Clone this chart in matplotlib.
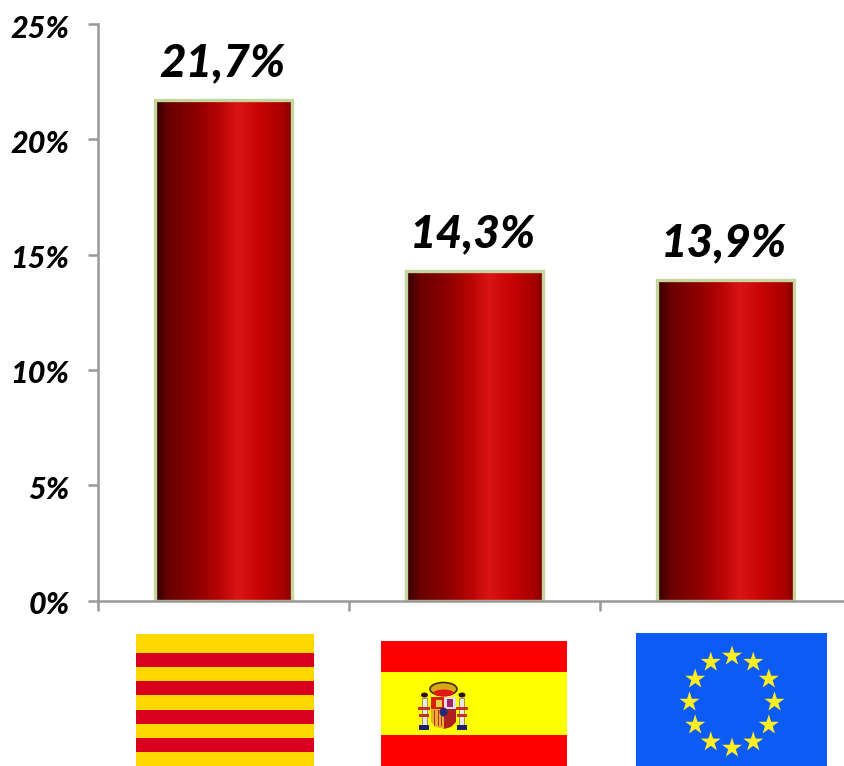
import numpy as np
from matplotlib import pyplot as plt
from matplotlib.colors import LinearSegmentedColormap
from matplotlib.patches import Rectangle, Ellipse, Polygon
from matplotlib.transforms import ScaledTranslation

plt.rcParams['font.family'] = ['Lato', 'DejaVu Sans']

countries = ['Catalunya', 'Espanya', 'UE']
values = [21.7, 14.3, 13.9]
labels = ['21,7%', '14,3%', '13,9%']
y_ticks = [0, 5, 10, 15, 20, 25]
y_tick_labels = ['0%', '5%', '10%', '15%', '20%', '25%']

W, H = 845, 766
fig = plt.figure(figsize=(W / 100, H / 100), dpi=100, facecolor='white')

# axes run a little past the right edge of the figure, like the original
ax = fig.add_axes([98 / W, 1 - 600.5 / H, 753 / W, 576.5 / H])

red_map = LinearSegmentedColormap.from_list('bar_red', [
    (0.0, '#300000'), (0.1, '#6a0000'), (0.3, '#8e0000'), (0.48, '#bb0505'),
    (0.6, '#d91515'), (0.75, '#c90404'), (0.93, '#a80000'), (1.0, '#7c0000')])
shade = np.linspace(0, 1, 256).reshape(1, -1)

x_pos = np.arange(len(countries)) + 0.5
bars = ax.bar(x_pos, values, width=0.546, facecolor='none', edgecolor='#c5d69c',
              linewidth=2.4, zorder=3)
for bar in bars:
    x0, w, h = bar.get_x(), bar.get_width(), bar.get_height()
    ax.imshow(shade, cmap=red_map, extent=[x0, x0 + w, 0, h], aspect='auto', zorder=2)
ax.set_xlim(0, 3)
ax.set_ylim(0, 25)

for x, v, txt in zip(x_pos, values, labels):
    ax.annotate(txt, (x, v), xytext=(-1, 17), textcoords='offset points', ha='center',
                va='baseline', fontsize=33, fontweight='black', fontstyle='italic',
                color='black', zorder=5)

ax.spines['top'].set_visible(False)
ax.spines['right'].set_visible(False)
for side in ['left', 'bottom']:
    ax.spines[side].set_color('#999999')
    ax.spines[side].set_linewidth(1.8)
    ax.spines[side].set_zorder(4)
ax.set_xticks([0, 1, 2, 3])
ax.set_xticklabels([])
ax.set_yticks(y_ticks)
ax.set_yticklabels(y_tick_labels, fontsize=22, fontweight='black', fontstyle='italic', color='black')
ax.tick_params(axis='both', color='#999999', width=1.8, length=7.5)
ax.tick_params(axis='y', pad=13)
nudge = ScaledTranslation(0, -1.5 / 72, fig.dpi_scale_trans)
for tick_label in ax.get_yticklabels():
    tick_label.set_transform(tick_label.get_transform() + nudge)

# flags, in pixel coordinates on a full figure overlay
fl = fig.add_axes([0, 0, 1, 1], facecolor='none')
fl.set_xlim(0, W)
fl.set_ylim(H, 0)
fl.axis('off')

# Catalunya
fl.add_patch(Rectangle((136, 634), 178, 132, facecolor='#fdd900', edgecolor='none'))
for top in [653, 681, 710, 738]:
    fl.add_patch(Rectangle((136, top), 178, 14, facecolor='#d9001f', edgecolor='none'))

# Espanya
fl.add_patch(Rectangle((381, 641), 186, 125, facecolor='#ff0000', edgecolor='none'))
fl.add_patch(Rectangle((381, 672), 186, 63, facecolor='#ffff00', edgecolor='none'))
# coat of arms
fl.add_patch(Ellipse((443.5, 689), 27, 13, facecolor='#d8a818', edgecolor='#403000', linewidth=1.2))
fl.add_patch(Ellipse((443.5, 693), 20, 7, facecolor='#e01818', edgecolor='none'))
fl.add_patch(Rectangle((431, 697), 13, 12, facecolor='#d82010', edgecolor='none'))
fl.add_patch(Rectangle((436, 700), 6, 7, facecolor='#e8d040', edgecolor='none'))
fl.add_patch(Rectangle((444, 697), 12, 12, facecolor='#e4dce8', edgecolor='none'))
fl.add_patch(Rectangle((447, 699), 6, 8, facecolor='#a02868', edgecolor='none'))
fl.add_patch(Polygon([(431, 709), (444, 709), (444, 729), (436, 727), (431, 722)],
                     facecolor='#e8b030', edgecolor='none'))
for sx in [434, 438, 441]:
    fl.add_patch(Rectangle((sx, 710), 1.5, 16, facecolor='#c03010', edgecolor='none'))
fl.add_patch(Polygon([(444, 709), (456, 709), (456, 722), (451, 727), (444, 729)],
                     facecolor='#b02020', edgecolor='none'))
fl.add_patch(Ellipse((443.5, 712), 8, 9, facecolor='#282878', edgecolor='none'))
for px in [424.5, 462]:
    fl.add_patch(Rectangle((px - 2.5, 698), 5, 27, facecolor='#e8e8e8', edgecolor='#807040', linewidth=0.5))
    fl.add_patch(Ellipse((px, 695), 7, 5, facecolor='#301000', edgecolor='none'))
    fl.add_patch(Rectangle((px - 5, 725), 10, 5, facecolor='#202070', edgecolor='none'))
    fl.add_patch(Rectangle((px - 6, 707), 12, 3, facecolor='#c83020', edgecolor='none'))
    fl.add_patch(Rectangle((px - 5, 714), 10, 3, facecolor='#c83020', edgecolor='none'))

# UE
fl.add_patch(Rectangle((636, 633), 191, 133, facecolor='#0d5bf5', edgecolor='none'))
angles = np.deg2rad(np.arange(0, 360, 30))
fl.scatter(732 + 42.5 * np.sin(angles), 702 - 46 * np.cos(angles), marker='*', s=230,
           color='#ffee22', edgecolor='none')

fig.savefig('out.png', dpi=100, facecolor='white')
